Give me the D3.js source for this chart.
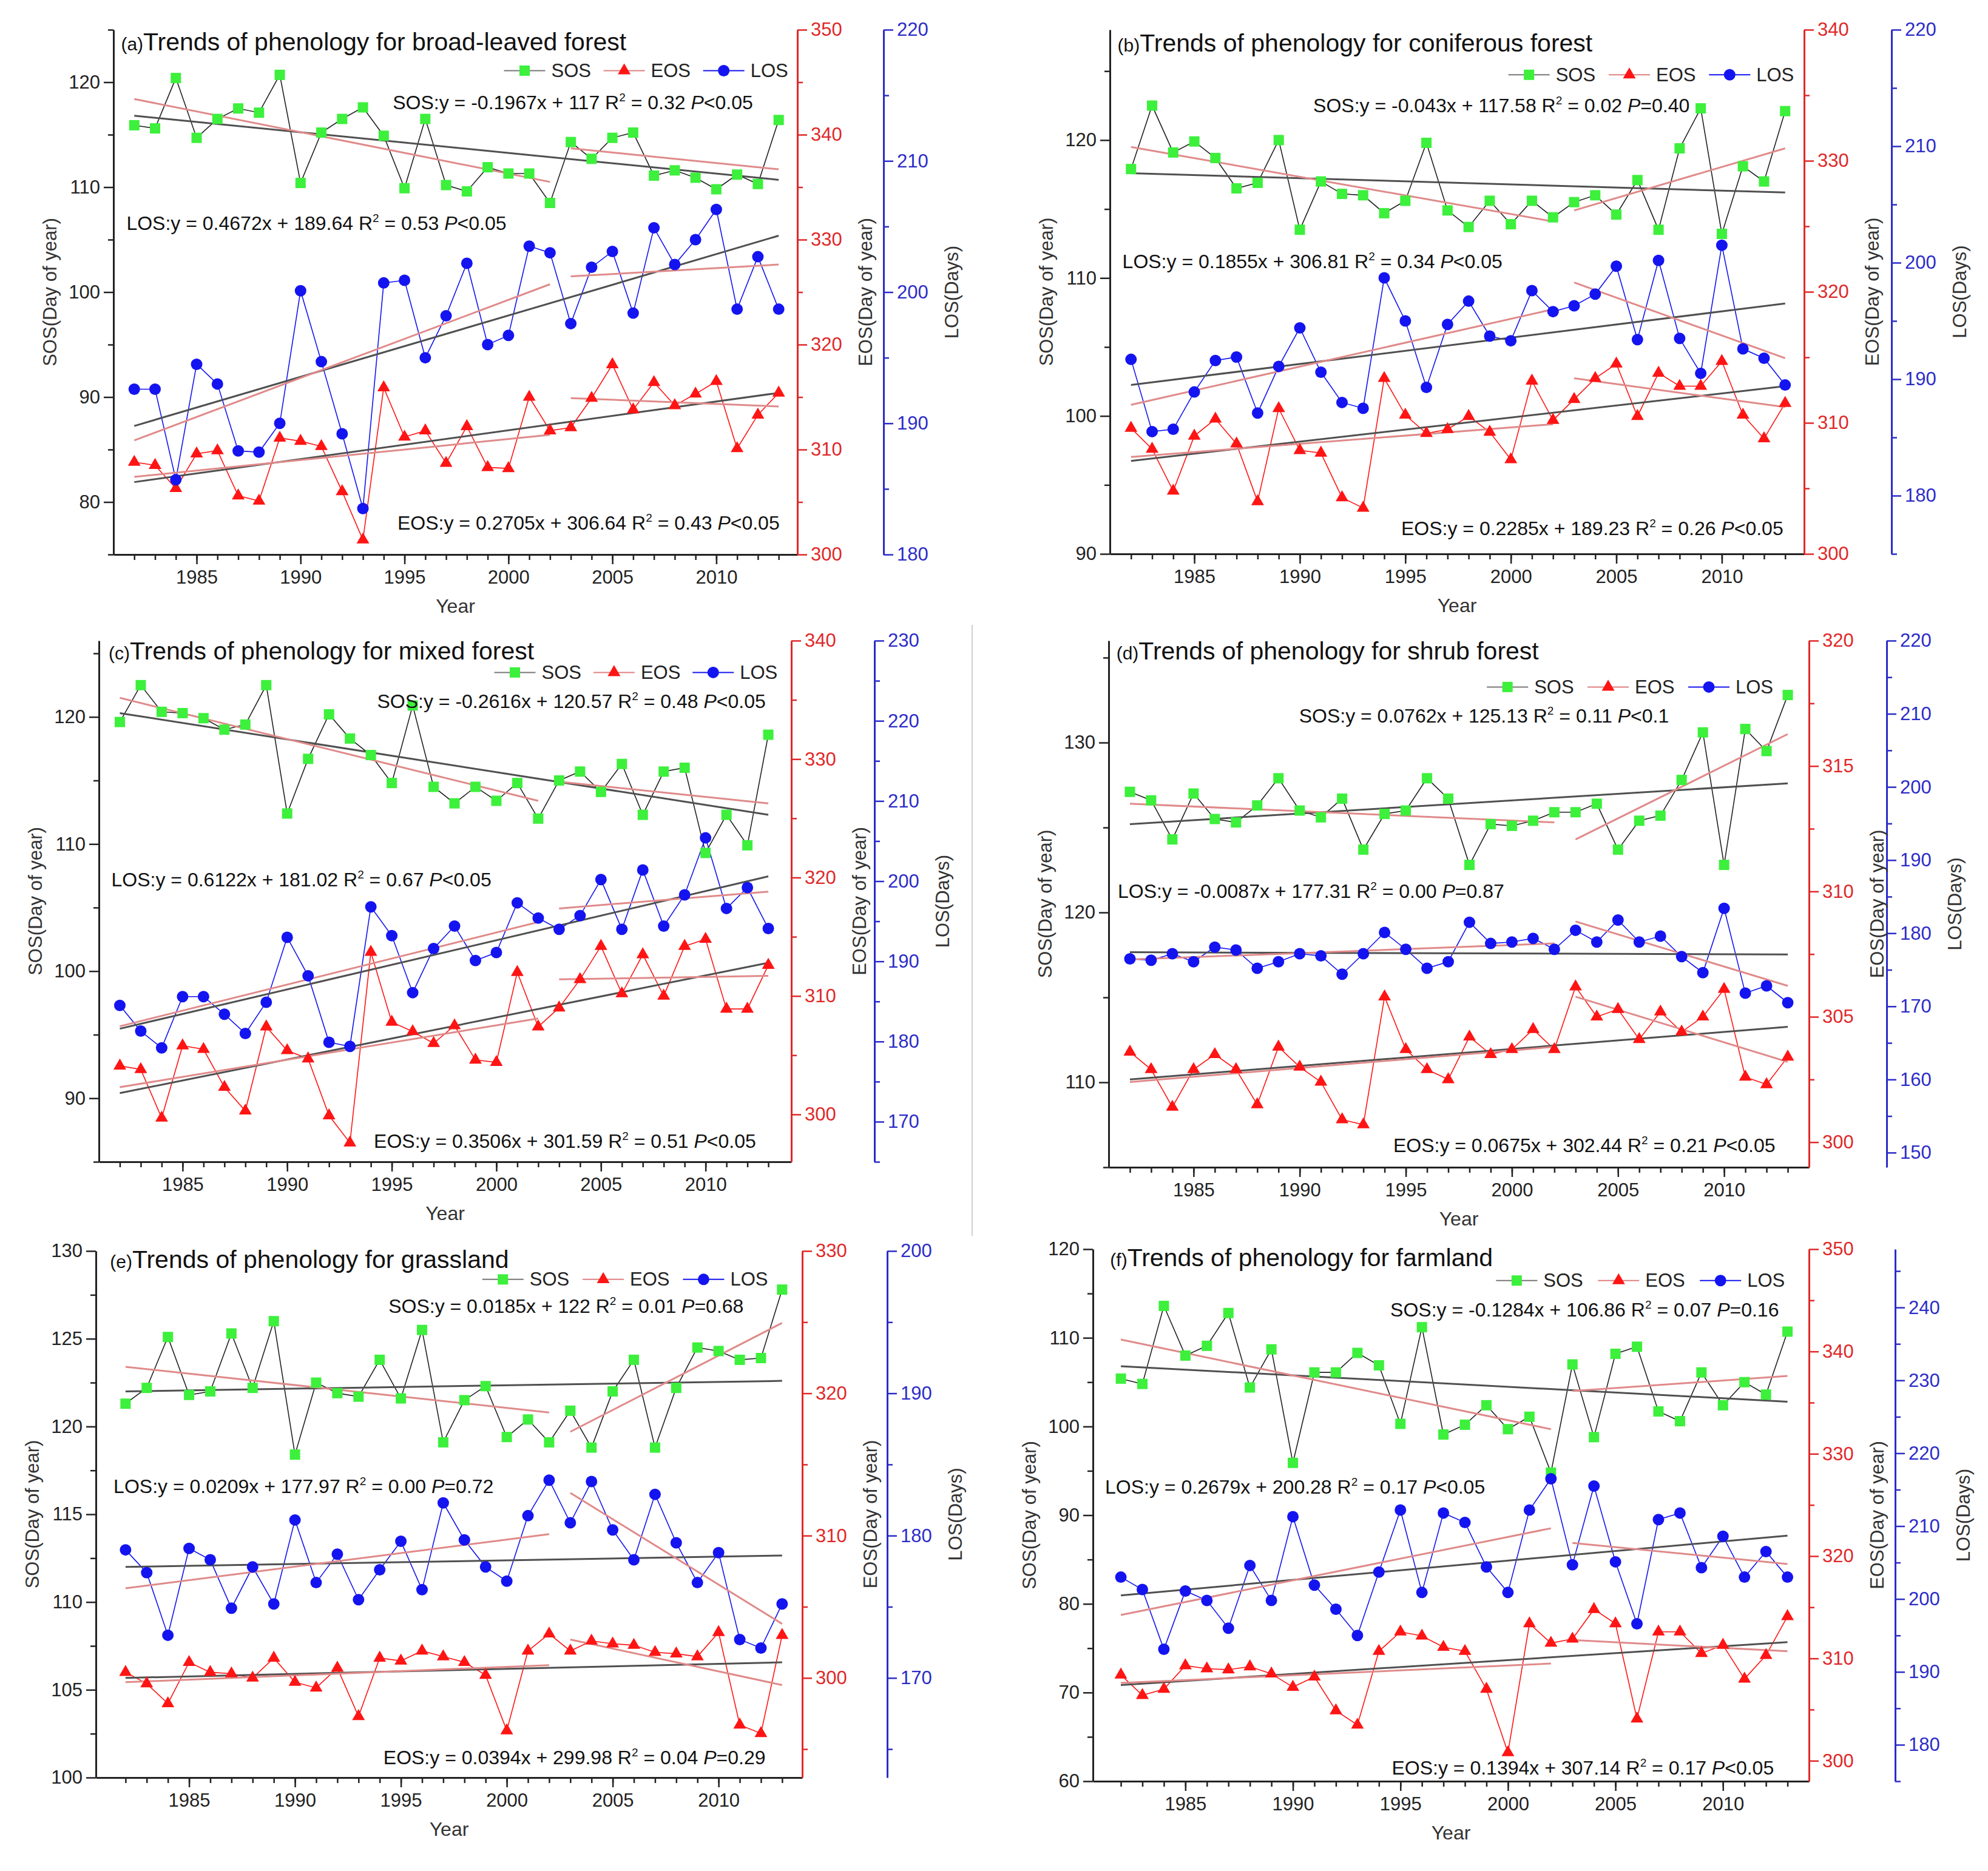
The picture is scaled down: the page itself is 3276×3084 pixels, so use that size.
<!DOCTYPE html>
<html>
<head>
<meta charset="utf-8">
<script src="https://cdn.jsdelivr.net/npm/d3@7"></script>
<style>
body { margin: 0; background: #fff; }
svg { display: block; }
text { font-family: "Liberation Sans Narrow", "Arial Narrow", "Liberation Sans", Arial, sans-serif; }
</style>
</head>
<body>
<div id="chart"></div>
<script>
const years = [1982, 1983, 1984, 1985, 1986, 1987, 1988, 1989, 1990, 1991, 1992, 1993, 1994, 1995, 1996, 1997,
               1998, 1999, 2000, 2001, 2002, 2003, 2004, 2005, 2006, 2007, 2008, 2009, 2010, 2011, 2012, 2013]
const yearTicks = [1985, 1990, 1995, 2000, 2005, 2010]

// (a) broad-leaved forest
const sosBroad = [115.9, 115.6, 120.4, 114.7, 116.5, 117.5, 117.1, 120.7, 110.4, 115.2, 116.5, 117.6, 114.9, 109.9, 116.5, 110.2,
                  109.6, 111.9, 111.3, 111.3, 108.5, 114.3, 112.7, 114.7, 115.2, 111.1, 111.6, 110.9, 109.8, 111.2, 110.3, 116.4]
const eosBroad = [308.8, 308.5, 306.3, 309.6, 309.9, 305.6, 305.1, 311.1, 310.8, 310.3, 306.0, 301.4, 315.9, 311.2, 311.8, 308.7,
                  312.2, 308.3, 308.2, 315.0, 311.8, 312.1, 314.9, 318.1, 313.8, 316.4, 314.2, 315.3, 316.5, 310.1, 313.3, 315.4]
const losBroad = [192.6, 192.6, 185.7, 194.5, 193.0, 187.9, 187.8, 190.0, 200.1, 194.7, 189.2, 183.5, 200.7, 200.9, 195.0, 198.2,
                  202.2, 196.0, 196.7, 203.5, 203.0, 197.6, 201.9, 203.1, 198.4, 204.9, 202.1, 204.0, 206.3, 198.7, 202.7, 198.7]
// trend ends: whole period 1982-2013, then 1982-2002 and 2003-2013
const sosTrendBroad = [116.8, 110.7, 118.4, 110.5, 113.7, 111.7]
const eosTrendBroad = [306.9, 315.4, 307.4, 311.4, 314.9, 314.1]
const losTrendBroad = [189.8, 204.3, 188.7, 200.6, 201.2, 202.1]

// (b) coniferous forest
const sosConif = [117.9, 122.5, 119.1, 119.9, 118.7, 116.5, 116.9, 120.0, 113.5, 117.0, 116.1, 116.0, 114.7, 115.6, 119.8, 114.9,
                  113.7, 115.6, 113.9, 115.6, 114.4, 115.5, 116.0, 114.6, 117.1, 113.5, 119.4, 122.3, 113.2, 118.1, 117.0, 122.1]
const eosConif = [309.6, 308.0, 304.8, 309.0, 310.3, 308.4, 304.0, 311.1, 307.9, 307.7, 304.3, 303.5, 313.4, 310.6, 309.2, 309.5,
                  310.5, 309.3, 307.2, 313.2, 310.2, 311.8, 313.4, 314.5, 310.5, 313.8, 312.8, 312.8, 314.7, 310.6, 308.8, 311.5]
const losConif = [191.7, 185.5, 185.7, 188.9, 191.6, 191.9, 187.1, 191.1, 194.4, 190.6, 188.0, 187.5, 198.7, 195.0, 189.3, 194.7,
                  196.7, 193.7, 193.3, 197.6, 195.8, 196.3, 197.3, 199.7, 193.4, 200.2, 193.5, 190.5, 201.5, 192.6, 191.8, 189.5]
const sosTrendConif = [117.6, 116.2, 119.5, 114.1, 114.9, 119.4]
const eosTrendConif = [307.1, 312.8, 307.4, 309.9, 313.4, 311.2]
const losTrendConif = [189.5, 196.5, 187.8, 196.0, 198.3, 191.8]

// (c) mixed forest
const sosMixed = [119.6, 122.5, 120.4, 120.3, 119.9, 119.0, 119.4, 122.5, 112.4, 116.7, 120.2, 118.3, 117.0, 114.8, 120.9, 114.5,
                  113.2, 114.5, 113.4, 114.8, 112.0, 115.0, 115.7, 114.1, 116.3, 112.3, 115.7, 116.0, 109.3, 112.3, 109.9, 118.6]
const eosMixed = [304.1, 303.8, 299.7, 305.8, 305.5, 302.3, 300.3, 307.4, 305.4, 304.7, 299.9, 297.6, 313.7, 307.8, 307.0, 306.0,
                  307.5, 304.6, 304.4, 312.0, 307.4, 309.0, 311.4, 314.2, 310.2, 313.5, 310.0, 314.2, 314.8, 308.9, 308.9, 312.6]
const losMixed = [184.5, 181.3, 179.2, 185.6, 185.6, 183.4, 181.0, 184.9, 193.0, 188.2, 179.9, 179.4, 196.8, 193.2, 186.1, 191.6,
                  194.4, 190.1, 191.1, 197.3, 195.4, 194.0, 195.7, 200.2, 194.0, 201.4, 194.4, 198.3, 205.4, 196.6, 199.2, 194.1]
const sosTrendMixed = [120.3, 112.3, 121.5, 113.4, 114.9, 113.2]
const eosTrendMixed = [301.8, 312.8, 302.3, 308.1, 311.4, 311.7]
const losTrendMixed = [181.6, 200.6, 181.9, 194.9, 196.6, 198.7]

// (d) shrub forest
const sosShrub = [127.1, 126.6, 124.3, 127.0, 125.5, 125.3, 126.3, 127.9, 126.0, 125.6, 126.7, 123.7, 125.8, 126.0, 127.9, 126.7,
                  122.8, 125.2, 125.1, 125.4, 125.9, 125.9, 126.4, 123.7, 125.4, 125.7, 127.8, 130.6, 122.8, 130.8, 129.5, 132.8]
const eosShrub = [303.6, 302.9, 301.4, 302.9, 303.5, 302.9, 301.5, 303.8, 303.0, 302.4, 300.9, 300.7, 305.8, 303.7, 302.9, 302.5,
                  304.2, 303.5, 303.7, 304.5, 303.7, 306.2, 305.0, 305.3, 304.1, 305.2, 304.4, 305.0, 306.1, 302.6, 302.3, 303.4]
const losShrub = [176.5, 176.3, 177.2, 176.1, 178.1, 177.7, 175.2, 176.1, 177.2, 176.9, 174.4, 177.2, 180.1, 177.8, 175.2, 176.1,
                  181.5, 178.6, 178.8, 179.3, 177.8, 180.4, 178.8, 181.8, 178.8, 179.6, 176.8, 174.6, 183.4, 171.8, 172.8, 170.5]
const sosTrendShrub = [125.2, 127.6, 126.4, 125.3, 124.3, 130.5]
const eosTrendShrub = [302.5, 304.6, 302.4, 303.8, 305.8, 303.2]
const losTrendShrub = [177.4, 177.1, 176.4, 178.6, 181.6, 172.8]

// (e) grassland
const sosGrass = [121.3, 122.2, 125.1, 121.8, 122.0, 125.3, 122.2, 126.0, 118.4, 122.5, 121.9, 121.7, 123.8, 121.6, 125.5, 119.1,
                  121.5, 122.3, 119.4, 120.4, 119.1, 120.9, 118.8, 122.0, 123.8, 118.8, 122.2, 124.5, 124.3, 123.8, 123.9, 127.8]
const eosGrass = [300.4, 299.6, 298.2, 301.1, 300.4, 300.3, 300.0, 301.4, 299.7, 299.3, 300.7, 297.3, 301.4, 301.2, 301.9, 301.5,
                  301.1, 300.2, 296.3, 301.9, 303.1, 301.9, 302.6, 302.4, 302.3, 301.8, 301.7, 301.5, 303.2, 296.7, 296.1, 303.0]
const losGrass = [179.0, 177.4, 173.0, 179.1, 178.3, 174.9, 177.8, 175.2, 181.1, 176.7, 178.7, 175.5, 177.6, 179.6, 176.2, 182.3,
                  179.7, 177.8, 176.8, 181.4, 183.9, 180.9, 183.8, 180.4, 178.3, 182.9, 179.5, 176.7, 178.8, 172.7, 172.1, 175.2]
const sosTrendGrass = [122.0, 122.6, 123.4, 120.8, 119.7, 125.9]
const eosTrendGrass = [300.0, 301.1, 299.7, 300.9, 302.7, 299.5]
const losTrendGrass = [177.8, 178.6, 176.3, 180.1, 183.0, 173.8]

// (f) farmland
const sosFarm = [105.4, 104.8, 113.6, 108.0, 109.1, 112.8, 104.4, 108.7, 95.9, 106.1, 106.1, 108.3, 106.9, 100.3, 111.2, 99.1,
                 100.2, 102.4, 99.7, 101.1, 94.8, 107.0, 98.8, 108.2, 109.0, 101.7, 100.6, 106.1, 102.4, 105.0, 103.6, 110.7]
const eosFarm = [308.4, 306.4, 307.0, 309.3, 309.0, 308.9, 309.2, 308.5, 307.2, 308.2, 304.9, 303.5, 310.7, 312.6, 312.2, 311.1,
                 310.7, 307.0, 300.8, 313.4, 311.5, 311.9, 314.8, 313.4, 304.1, 312.6, 312.6, 310.5, 311.3, 308.0, 310.3, 314.1]
const losFarm = [203.0, 201.3, 193.1, 201.1, 199.8, 196.0, 204.6, 199.8, 211.3, 201.9, 198.6, 195.0, 203.7, 212.2, 200.9, 211.8,
                 210.5, 204.4, 200.9, 212.2, 216.5, 204.7, 215.5, 205.1, 196.6, 210.9, 211.8, 204.3, 208.6, 203.0, 206.5, 203.0]
const sosTrendFarm = [106.8, 102.8, 109.8, 99.7, 104.0, 105.7]
const eosTrendFarm = [307.4, 311.6, 307.6, 309.5, 311.8, 310.7]
const losTrendFarm = [200.5, 208.7, 197.8, 209.7, 207.7, 204.8]

const panelLetters = ["(a)", "(b)", "(c)", "(d)", "(e)", "(f)"]
const panelTitles = ["Trends of phenology for broad-leaved forest", "Trends of phenology for coniferous forest",
                     "Trends of phenology for mixed forest", "Trends of phenology for shrub forest",
                     "Trends of phenology for grassland", "Trends of phenology for farmland"]
// [fit, R2, P]
const sosEquations = [["-0.1967x + 117", "0.32", "<0.05"], ["-0.043x + 117.58", "0.02", "=0.40"], ["-0.2616x + 120.57", "0.48", "<0.05"],
                      ["0.0762x + 125.13", "0.11", "<0.1"], ["0.0185x + 122", "0.01", "=0.68"], ["-0.1284x + 106.86", "0.07", "=0.16"]]
const losEquations = [["0.4672x + 189.64", "0.53", "<0.05"], ["0.1855x + 306.81", "0.34", "<0.05"], ["0.6122x + 181.02", "0.67", "<0.05"],
                      ["-0.0087x + 177.31", "0.00", "=0.87"], ["0.0209x + 177.97", "0.00", "=0.72"], ["0.2679x + 200.28", "0.17", "<0.05"]]
const eosEquations = [["0.2705x + 306.64", "0.43", "<0.05"], ["0.2285x + 189.23", "0.26", "<0.05"], ["0.3506x + 301.59", "0.51", "<0.05"],
                      ["0.0675x + 302.44", "0.21", "<0.05"], ["0.0394x + 299.98", "0.04", "=0.29"], ["0.1394x + 307.14", "0.17", "<0.05"]]

const sosTicks = [[80, 90, 100, 110, 120], [90, 100, 110, 120], [90, 100, 110, 120], [110, 120, 130],
                  [100, 105, 110, 115, 120, 125, 130], [60, 70, 80, 90, 100, 110, 120]]
const eosTicks = [[300, 310, 320, 330, 340, 350], [300, 310, 320, 330, 340], [300, 310, 320, 330, 340], [300, 305, 310, 315, 320],
                  [300, 310, 320, 330], [300, 310, 320, 330, 340, 350]]
const losTicks = [[180, 190, 200, 210, 220], [180, 190, 200, 210, 220], [170, 180, 190, 200, 210, 220, 230],
                  [150, 160, 170, 180, 190, 200, 210, 220], [170, 180, 190, 200], [180, 190, 200, 210, 220, 230, 240]]

const width = 3276
const height = 3084

// layout of each panel (pixels) and axis ranges
const frames = [
    {left: 187, right: 1314, blue: 1456, top: 49, bottom: 914, x: [1981.0, 2013.9], sos: [75, 125], eos: [300, 350], los: [180, 220],
     title: [0.011, 0.045], legend: [0.571, 0.99, 0.078], eqS: [0.935, 0.151], eqL: [0.019, 0.381], eqE: [0.974, 0.953]},
    {left: 1829, right: 2973, blue: 3117, top: 49, bottom: 913, x: [1981.0, 2013.9], sos: [90, 128], eos: [300, 340], los: [175, 220],
     title: [0.011, 0.047], legend: [0.574, 0.99, 0.086], eqS: [0.835, 0.157], eqL: [0.018, 0.455], eqE: [0.970, 0.964]},
    {left: 163, right: 1304, blue: 1441, top: 1056, bottom: 1915, x: [1981.0, 2014.1], sos: [85, 126], eos: [296, 340], los: [165, 230],
     title: [0.014, 0.042], legend: [0.571, 0.983, 0.061], eqS: [0.963, 0.129], eqL: [0.018, 0.471], eqE: [0.949, 0.973]},
    {left: 1827, right: 2981, blue: 3109, top: 1056, bottom: 1924, x: [1981.0, 2014.0], sos: [105, 136], eos: [299, 320], los: [148, 220],
     title: [0.011, 0.041], legend: [0.54, 0.954, 0.088], eqS: [0.80, 0.156], eqL: [0.013, 0.488], eqE: [0.952, 0.971]},
    {left: 158, right: 1322, blue: 1462, top: 2062, bottom: 2930, x: [1980.6, 2013.95], sos: [100, 130], eos: [293, 330], los: [163, 200],
     title: [0.02, 0.038], legend: [0.547, 0.956, 0.054], eqS: [0.917, 0.117], eqL: [0.025, 0.46], eqE: [0.948, 0.975]},
    {left: 1801, right: 2981, blue: 3123, top: 2059, bottom: 2936, x: [1980.7, 2014.0], sos: [60, 120], eos: [298, 350], los: [175, 248],
     title: [0.024, 0.038], legend: [0.563, 0.973, 0.059], eqS: [0.958, 0.127], eqL: [0.017, 0.46], eqE: [0.951, 0.988]}
]

const sosSeries = [sosBroad, sosConif, sosMixed, sosShrub, sosGrass, sosFarm]
const eosSeries = [eosBroad, eosConif, eosMixed, eosShrub, eosGrass, eosFarm]
const losSeries = [losBroad, losConif, losMixed, losShrub, losGrass, losFarm]
const sosTrends = [sosTrendBroad, sosTrendConif, sosTrendMixed, sosTrendShrub, sosTrendGrass, sosTrendFarm]
const eosTrends = [eosTrendBroad, eosTrendConif, eosTrendMixed, eosTrendShrub, eosTrendGrass, eosTrendFarm]
const losTrends = [losTrendBroad, losTrendConif, losTrendMixed, losTrendShrub, losTrendGrass, losTrendFarm]

const green = "#3cf03c"
const red = "#ff1414"
const blue = "#1414f0"
const redAxis = "#e02828"
const blueAxis = "#2c2cc8"
const fontSize = 31

const svg = d3.select("#chart").append("svg").attr("width", width).attr("height", height)
svg.append("rect").attr("width", width).attr("height", height).attr("fill", "#fff")

// thin separator between (c) and (d)
svg.append("line").attr("x1", 1602).attr("x2", 1602).attr("y1", 1030).attr("y2", 2037)
    .attr("stroke", "#d0d0d0").attr("stroke-width", 2)

function minorOf(ticks, domain) {
    const step = ticks[1] - ticks[0]
    const out = []
    for (let v = ticks[0] - step / 2; v <= domain[1] + 1e-9; v += step / 2) {
        if (v >= domain[0] - 1e-9 && !ticks.includes(+v.toFixed(3))) out.push(v)
    }
    return out
}

function styleAxis(g, color) {
    g.select(".domain").attr("stroke", color).attr("stroke-width", 3)
    g.selectAll(".tick line").attr("stroke", color).attr("stroke-width", 2.5)
    g.selectAll(".tick text").attr("fill", color).attr("font-size", fontSize)
}

function equation(g, x, y, anchor, name, eq) {
    const t = g.append("text").attr("x", x).attr("y", y).attr("text-anchor", anchor)
        .attr("font-size", fontSize + 1).attr("fill", "#111")
    t.append("tspan").text(`${name}:y = ${eq[0]} R`)
    t.append("tspan").attr("font-size", 19).attr("dy", -13).text("2")
    t.append("tspan").attr("dy", 13).text(` = ${eq[1]} `)
    t.append("tspan").attr("font-style", "italic").text("P")
    t.append("tspan").text(eq[2])
}

frames.forEach((f, i) => {
    const g = svg.append("g")
    const pw = f.right - f.left
    const ph = f.bottom - f.top

    const x = d3.scaleLinear().domain(f.x).range([f.left, f.right])
    const ySos = d3.scaleLinear().domain(f.sos).range([f.bottom, f.top])
    const yEos = d3.scaleLinear().domain(f.eos).range([f.bottom, f.top])
    const yLos = d3.scaleLinear().domain(f.los).range([f.bottom, f.top])

    // axes
    const xMinor = g.append("g").attr("transform", `translate(0,${f.bottom})`)
        .call(d3.axisBottom(x).tickValues(years).tickSize(9).tickSizeOuter(0).tickFormat(""))
    xMinor.select(".domain").remove()
    xMinor.selectAll(".tick line").attr("stroke", "#222").attr("stroke-width", 2.5)
    const xAxis = g.append("g").attr("transform", `translate(0,${f.bottom})`)
        .call(d3.axisBottom(x).tickValues(yearTicks).tickFormat(d3.format("d")).tickSize(16).tickSizeOuter(0).tickPadding(10))
    styleAxis(xAxis, "#222")

    const axes = [
        {scale: ySos, ticks: sosTicks[i], dom: f.sos, gen: d3.axisLeft, pos: f.left, color: "#222"},
        {scale: yEos, ticks: eosTicks[i], dom: f.eos, gen: d3.axisRight, pos: f.right, color: redAxis},
        {scale: yLos, ticks: losTicks[i], dom: f.los, gen: d3.axisRight, pos: f.blue, color: blueAxis}
    ]
    axes.forEach(a => {
        const mg = g.append("g").attr("transform", `translate(${a.pos},0)`)
            .call(a.gen(a.scale).tickValues(minorOf(a.ticks, a.dom)).tickSize(9).tickSizeOuter(0).tickFormat(""))
        mg.select(".domain").remove()
        mg.selectAll(".tick line").attr("stroke", a.color).attr("stroke-width", 2.5)
        const ag = g.append("g").attr("transform", `translate(${a.pos},0)`)
            .call(a.gen(a.scale).tickValues(a.ticks).tickSize(16).tickSizeOuter(0).tickPadding(6))
        styleAxis(ag, a.color)
    })

    // axis titles
    g.append("text").attr("transform", `translate(${f.left - 105},${f.top + ph / 2}) rotate(-90)`)
        .attr("text-anchor", "middle").attr("dominant-baseline", "central").attr("font-size", fontSize).attr("fill", "#333")
        .attr("font-family", "Liberation Sans, Arial, sans-serif").text("SOS(Day of year)")
    g.append("text").attr("transform", `translate(${f.right + 112},${f.top + ph / 2}) rotate(-90)`)
        .attr("text-anchor", "middle").attr("dominant-baseline", "central").attr("font-size", fontSize).attr("fill", "#333")
        .attr("font-family", "Liberation Sans, Arial, sans-serif").text("EOS(Day of year)")
    g.append("text").attr("transform", `translate(${f.blue + 112},${f.top + ph / 2}) rotate(-90)`)
        .attr("text-anchor", "middle").attr("dominant-baseline", "central").attr("font-size", fontSize).attr("fill", "#333")
        .attr("font-family", "Liberation Sans, Arial, sans-serif").text("LOS(Days)")
    g.append("text").attr("x", f.left + pw / 2).attr("y", f.bottom + 96).attr("text-anchor", "middle")
        .attr("font-size", fontSize + 1).attr("fill", "#333").text("Year")

    // series lines
    const line = s => d3.line().x((d, k) => x(years[k])).y(d => s(d))
    g.append("path").datum(sosSeries[i]).attr("d", line(ySos)).attr("fill", "none").attr("stroke", "#222").attr("stroke-width", 1.6)
    g.append("path").datum(eosSeries[i]).attr("d", line(yEos)).attr("fill", "none").attr("stroke", red).attr("stroke-width", 1.6)
    g.append("path").datum(losSeries[i]).attr("d", line(yLos)).attr("fill", "none").attr("stroke", blue).attr("stroke-width", 1.6)

    // trend lines
    const trendSets = [[sosTrends[i], ySos], [eosTrends[i], yEos], [losTrends[i], yLos]]
    trendSets.forEach(([t, s]) => {
        const segs = [
            {x1: years[0], x2: years[years.length - 1], y1: t[0], y2: t[1], c: "#505050"},
            {x1: years[0], x2: 2002, y1: t[2], y2: t[3], c: "#e08a8a"},
            {x1: 2003, x2: years[years.length - 1], y1: t[4], y2: t[5], c: "#e08a8a"}
        ]
        g.selectAll(null).data(segs).enter().append("line")
            .attr("x1", d => x(d.x1)).attr("x2", d => x(d.x2))
            .attr("y1", d => s(d.y1)).attr("y2", d => s(d.y2))
            .attr("stroke", d => d.c).attr("stroke-width", 3)
    })

    // markers
    const sq = 17
    g.selectAll(null).data(sosSeries[i]).enter().append("rect")
        .attr("x", (d, k) => x(years[k]) - sq / 2).attr("y", d => ySos(d) - sq / 2)
        .attr("width", sq).attr("height", sq).attr("fill", green)
    const tri = d3.symbol().type(d3.symbolTriangle).size(190)
    g.selectAll(null).data(eosSeries[i]).enter().append("path")
        .attr("d", tri).attr("transform", (d, k) => `translate(${x(years[k])},${yEos(d)})`).attr("fill", red)
    g.selectAll(null).data(losSeries[i]).enter().append("circle")
        .attr("cx", (d, k) => x(years[k])).attr("cy", d => yLos(d)).attr("r", 9.5).attr("fill", blue)

    // title
    const tt = g.append("text").attr("x", f.left + f.title[0] * pw).attr("y", f.top + f.title[1] * ph - 5)
        .attr("fill", "#111")
    tt.append("tspan").attr("font-size", 30).text(panelLetters[i])
    tt.append("tspan").attr("font-size", 41).text(panelTitles[i])

    // legend
    const lx0 = f.left + f.legend[0] * pw
    const lx1 = f.left + f.legend[1] * pw
    const ly = f.top + f.legend[2] * ph
    const step = (lx1 - lx0 + 20) / 3
    const items = [
        {name: "SOS", line: "#777", mark: "sq"},
        {name: "EOS", line: "#e08080", mark: "tri"},
        {name: "LOS", line: blue, mark: "circ"}
    ]
    items.forEach((it, k) => {
        const sx = lx0 + k * step
        g.append("line").attr("x1", sx).attr("x2", sx + 68).attr("y1", ly).attr("y2", ly)
            .attr("stroke", it.line).attr("stroke-width", 2)
        const cx = sx + 34
        if (it.mark === "sq") g.append("rect").attr("x", cx - sq / 2).attr("y", ly - sq / 2).attr("width", sq).attr("height", sq).attr("fill", green)
        if (it.mark === "tri") g.append("path").attr("d", tri).attr("transform", `translate(${cx},${ly})`).attr("fill", red)
        if (it.mark === "circ") g.append("circle").attr("cx", cx).attr("cy", ly).attr("r", 9.5).attr("fill", blue)
        g.append("text").attr("x", sx + 78).attr("y", ly).attr("dominant-baseline", "central")
            .attr("font-size", fontSize).attr("fill", "#222").text(it.name)
    })

    // fit equations
    equation(g, f.left + f.eqS[0] * pw, f.top + f.eqS[1] * ph, "end", "SOS", sosEquations[i])
    equation(g, f.left + f.eqL[0] * pw, f.top + f.eqL[1] * ph, "start", "LOS", losEquations[i])
    equation(g, f.left + f.eqE[0] * pw, f.top + f.eqE[1] * ph, "end", "EOS", eosEquations[i])
})
</script>
</body>
</html>
